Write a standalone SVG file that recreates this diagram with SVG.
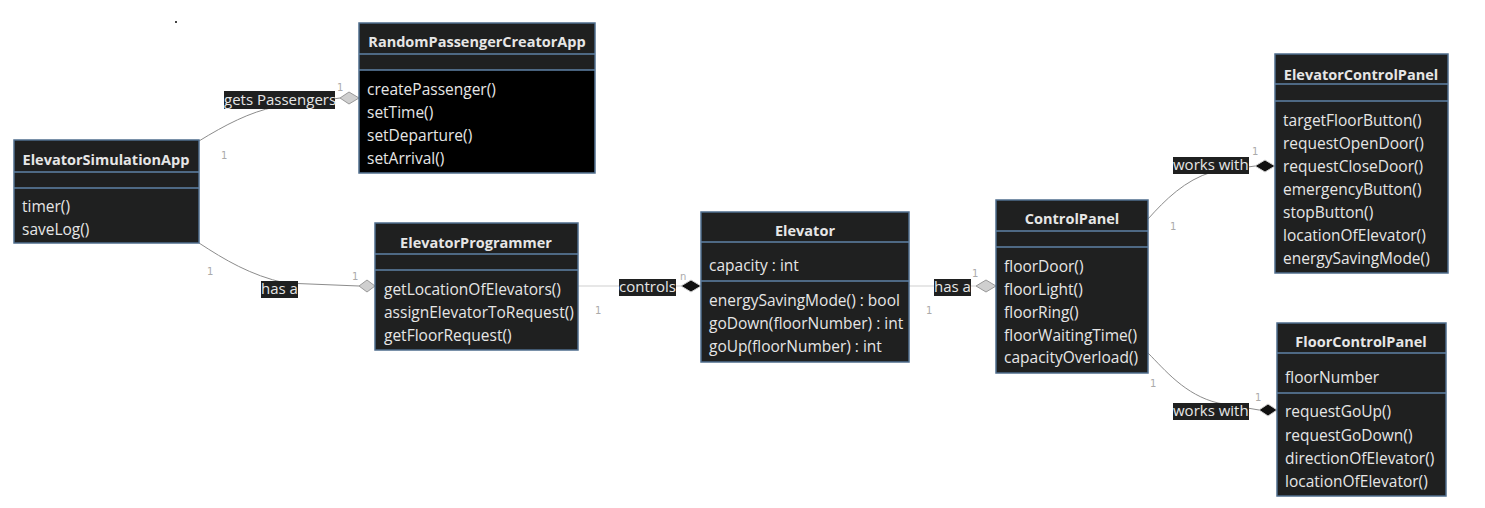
<svg xmlns="http://www.w3.org/2000/svg" width="1485" height="508" viewBox="0 0 1485 508">
<style>
.box{fill:#1f2020;stroke:#4f6d8d;stroke-width:1.5}
.blk{fill:#000}
.div{stroke:#5f82a6;stroke-width:1.5}
.t{font-family:"Open Sans","DejaVu Sans",sans-serif;font-size:15.5px;fill:#e6e6e6}
.b{font-weight:bold;text-anchor:middle;font-size:14.5px}
.l{font-size:15px}
.lbl{fill:#1f2020}
.m{font-family:"DejaVu Sans",sans-serif;font-size:10px;fill:#aaa}
.c{fill:none;stroke:#8c8c8c;stroke-width:1}
.s{fill:none;stroke:#cfcfcf;stroke-width:1}
.dh{fill:#cfcfcf;stroke:#999;stroke-width:1}
.df{fill:#111;stroke:#cfcfcf;stroke-width:1}
</style>
<rect x="175" y="21" width="2" height="2" fill="#444"/>
<g id="connectors">
  <path class="c" d="M199,141 C225,125 250,112 275,107 L340,98"/>
  <polygon class="dh" points="340,98 349,92 359,98 349,104"/>
  <rect class="lbl" x="224" y="91" width="111" height="18"/>
  <text class="t l" x="224" y="105">gets Passengers</text>
  <text class="m" x="337" y="91">1</text>
  <text class="m" x="221" y="159">1</text>

  <path class="c" d="M199,243 C225,260 250,275 285,283 L359,286"/>
  <polygon class="dh" points="359,286 367,280 375,286 367,292"/>
  <rect class="lbl" x="261" y="281" width="37" height="17"/>
  <text class="t l" x="261" y="294">has a</text>
  <text class="m" x="207" y="275">1</text>
  <text class="m" x="352" y="280">1</text>

  <path class="s" d="M578,286 L681,286"/>
  <polygon class="df" points="681,286 691,280 701,286 691,292"/>
  <rect class="lbl" x="619" y="279" width="57" height="17"/>
  <text class="t l" x="619" y="292">controls</text>
  <text class="m" x="680" y="280">n</text>
  <text class="m" x="595" y="314">1</text>

  <path class="s" d="M909,286 L976,286"/>
  <polygon class="dh" points="976,286 986,280 996,286 986,292"/>
  <rect class="lbl" x="934" y="279" width="37" height="17"/>
  <text class="t l" x="934" y="292">has a</text>
  <text class="m" x="972" y="277">1</text>
  <text class="m" x="926" y="314">1</text>

  <path class="c" d="M1148,219 C1165,200 1185,180 1212,172 L1255,166"/>
  <polygon class="df" points="1255,166 1265,160 1275,166 1265,172"/>
  <rect class="lbl" x="1173" y="157" width="76" height="17"/>
  <text class="t l" x="1173" y="170">works with</text>
  <text class="m" x="1252" y="155">1</text>
  <text class="m" x="1170" y="230">1</text>

  <path class="c" d="M1148,353 C1165,370 1185,395 1218,403 L1259,410"/>
  <polygon class="df" points="1259,410 1268,404 1277,410 1268,416"/>
  <rect class="lbl" x="1173" y="403" width="76" height="17"/>
  <text class="t l" x="1173" y="416">works with</text>
  <text class="m" x="1255" y="401">1</text>
  <text class="m" x="1150" y="387">1</text>
</g>
<g id="ElevatorSimulationApp">
  <rect class="box" x="14" y="140" width="185" height="103"/>
  <line class="div" x1="14" y1="172" x2="199" y2="172"/>
  <line class="div" x1="14" y1="188" x2="199" y2="188"/>
  <text class="t b" x="106" y="165">ElevatorSimulationApp</text>
  <text class="t" x="22" y="212">timer()</text>
  <text class="t" x="22" y="235">saveLog()</text>
</g>
<g id="RandomPassengerCreatorApp">
  <rect class="box" x="359" y="23" width="236" height="150"/>
  <rect class="blk" x="360" y="70" width="234" height="102"/>
  <line class="div" x1="359" y1="54" x2="595" y2="54"/>
  <line class="div" x1="359" y1="70" x2="595" y2="70"/>
  <text class="t b" x="477" y="47">RandomPassengerCreatorApp</text>
  <text class="t" x="367" y="95">createPassenger()</text>
  <text class="t" x="367" y="118">setTime()</text>
  <text class="t" x="367" y="141">setDeparture()</text>
  <text class="t" x="367" y="164">setArrival()</text>
</g>
<g id="ElevatorProgrammer">
  <rect class="box" x="375" y="223" width="203" height="127"/>
  <line class="div" x1="375" y1="254" x2="578" y2="254"/>
  <line class="div" x1="375" y1="270" x2="578" y2="270"/>
  <text class="t b" x="476" y="248">ElevatorProgrammer</text>
  <text class="t" x="384" y="295">getLocationOfElevators()</text>
  <text class="t" x="384" y="318">assignElevatorToRequest()</text>
  <text class="t" x="384" y="341">getFloorRequest()</text>
</g>
<g id="Elevator">
  <rect class="box" x="701" y="212" width="208" height="150"/>
  <line class="div" x1="701" y1="242" x2="909" y2="242"/>
  <line class="div" x1="701" y1="281" x2="909" y2="281"/>
  <text class="t b" x="805" y="236">Elevator</text>
  <text class="t" x="709" y="271">capacity : int</text>
  <text class="t" x="709" y="306">energySavingMode() : bool</text>
  <text class="t" x="709" y="329">goDown(floorNumber) : int</text>
  <text class="t" x="709" y="352">goUp(floorNumber) : int</text>
</g>
<g id="ControlPanel">
  <rect class="box" x="996" y="200" width="152" height="173"/>
  <line class="div" x1="996" y1="231" x2="1148" y2="231"/>
  <line class="div" x1="996" y1="247" x2="1148" y2="247"/>
  <text class="t b" x="1072" y="224">ControlPanel</text>
  <text class="t" x="1004" y="272">floorDoor()</text>
  <text class="t" x="1004" y="295">floorLight()</text>
  <text class="t" x="1004" y="318">floorRing()</text>
  <text class="t" x="1004" y="341">floorWaitingTime()</text>
  <text class="t" x="1004" y="363">capacityOverload()</text>
</g>
<g id="ElevatorControlPanel">
  <rect class="box" x="1275" y="54" width="173" height="219"/>
  <line class="div" x1="1275" y1="84" x2="1448" y2="84"/>
  <line class="div" x1="1275" y1="101" x2="1448" y2="101"/>
  <text class="t b" x="1361" y="80">ElevatorControlPanel</text>
  <text class="t" x="1283" y="126">targetFloorButton()</text>
  <text class="t" x="1283" y="149">requestOpenDoor()</text>
  <text class="t" x="1283" y="172">requestCloseDoor()</text>
  <text class="t" x="1283" y="195">emergencyButton()</text>
  <text class="t" x="1283" y="218">stopButton()</text>
  <text class="t" x="1283" y="241">locationOfElevator()</text>
  <text class="t" x="1283" y="264">energySavingMode()</text>
</g>
<g id="FloorControlPanel">
  <rect class="box" x="1277" y="323" width="169" height="173"/>
  <line class="div" x1="1277" y1="353" x2="1446" y2="353"/>
  <line class="div" x1="1277" y1="393" x2="1446" y2="393"/>
  <text class="t b" x="1361" y="347">FloorControlPanel</text>
  <text class="t" x="1285" y="383">floorNumber</text>
  <text class="t" x="1285" y="417">requestGoUp()</text>
  <text class="t" x="1285" y="441">requestGoDown()</text>
  <text class="t" x="1285" y="464">directionOfElevator()</text>
  <text class="t" x="1285" y="487">locationOfElevator()</text>
</g>
</svg>
